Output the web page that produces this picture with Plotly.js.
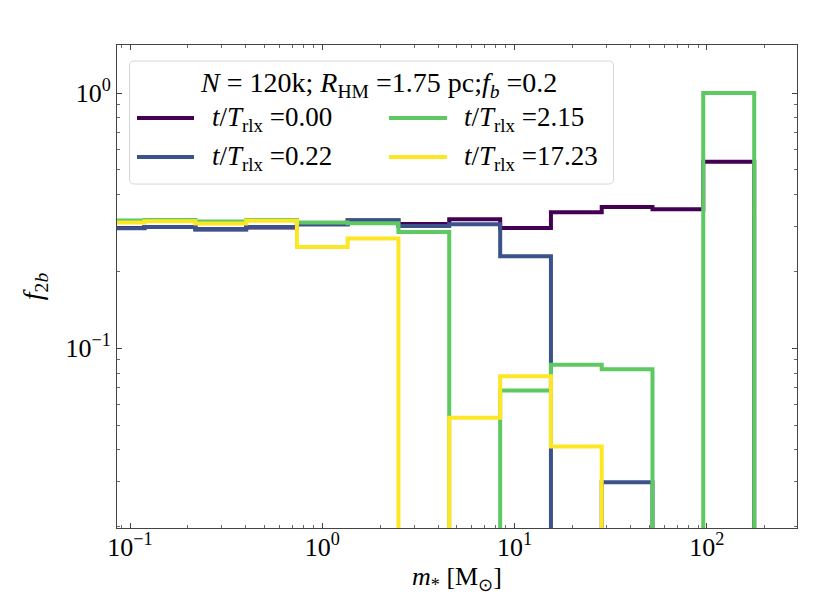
<!DOCTYPE html>
<html>
<head>
<meta charset="utf-8">
<script src="https://cdn.plot.ly/plotly-3.0.1.min.js"></script>
<style>html,body{margin:0;padding:0;background:#fff;}#chart{width:830px;height:600px;}</style>
</head>
<body>
<div id="chart"></div>
<script>
// bin edges of stellar mass [Msun] (log-spaced)
const binEdges = [0.0647, 0.1189, 0.2188, 0.4018, 0.738, 1.355, 2.489, 4.571, 8.414, 15.45, 28.38, 52.12, 95.7, 176.2];
// binary fraction per bin for each snapshot (0 = empty bin)
const fb_t000 = [0.296, 0.299, 0.293, 0.297, 0.306, 0.317, 0.307, 0.3205, 0.2963, 0.3415, 0.3581, 0.3508, 0.538];
const fb_t022 = [0.2955, 0.2987, 0.2920, 0.2989, 0.306, 0.3177, 0.3017, 0.3064, 0.2295, 0, 0.0299, 0, 0];
const fb_t215 = [0.3168, 0.3184, 0.3140, 0.3180, 0.311, 0.309, 0.2858, 0, 0.0683, 0.0863, 0.0827, 0, 1.0];
const fb_t1723 = [0.311, 0.3148, 0.3083, 0.3157, 0.2496, 0.2693, 0, 0.0535, 0.0778, 0.0412, 0, 0, 0];
const timeLabels = ["0.00", "0.22", "2.15", "17.23"];
const seriesColors = ["#440154", "#3b528b", "#5ec962", "#fde725"];
const xTickVals = [0.1, 1, 10, 100];
const xTickText = ["10<sup>\u22121</sup>", "10<sup>0</sup>", "10<sup>1</sup>", "10<sup>2</sup>"];
const yTickVals = [0.1, 1];
const yTickText = ["10<sup>\u22121</sup>", "10<sup>0</sup>"];
const minorDigits = [2, 3, 4, 5, 6, 7, 8, 9];
const decades = [0.01, 0.1, 1, 10, 100];

const allSeries = [fb_t000, fb_t022, fb_t215, fb_t1723];
const FLOOR = 1e-5; // stand-in for zero on a log axis (off the bottom of the plot)
const FONT = "Liberation Serif, Times New Roman, serif";

function stepOutline(edges, vals) {
  const xs = [edges[0]], ys = [FLOOR];
  for (let i = 0; i < vals.length; i++) {
    const v = vals[i] > 0 ? vals[i] : FLOOR;
    xs.push(edges[i]); ys.push(v);
    xs.push(edges[i + 1]); ys.push(v);
  }
  xs.push(edges[edges.length - 1]); ys.push(FLOOR);
  return {xs, ys};
}

const traces = allSeries.map((vals, k) => {
  const s = stepOutline(binEdges, vals);
  return {
    type: "scatter", mode: "lines", x: s.xs, y: s.ys,
    line: {color: seriesColors[k], width: 4, shape: "linear"},
    name: "t/T_rlx =" + timeLabels[k], showlegend: false, hoverinfo: "skip"
  };
});

const minorVals = [];
decades.forEach(d => minorDigits.forEach(m => minorVals.push(d * m)));

// plot-area geometry in pixels, for the hand-built legend box
const W = 830, H = 600, L = 117, R = 33, T = 45, B = 72;
const PW = W - L - R, PH = H - T - B;
const px = p => (p - L) / PW;
const py = p => 1 - (p - T) / PH;

const shapes = [];
const annotations = [];
// legend frame with rounded corners
(function () {
  const x0 = 129.5, x1 = 613.5, y0 = 61, y1 = 184, r = 5;
  const d = `M ${px(x0 + r)},${py(y0)} L ${px(x1 - r)},${py(y0)} Q ${px(x1)},${py(y0)} ${px(x1)},${py(y0 + r)} ` +
            `L ${px(x1)},${py(y1 - r)} Q ${px(x1)},${py(y1)} ${px(x1 - r)},${py(y1)} ` +
            `L ${px(x0 + r)},${py(y1)} Q ${px(x0)},${py(y1)} ${px(x0)},${py(y1 - r)} ` +
            `L ${px(x0)},${py(y0 + r)} Q ${px(x0)},${py(y0)} ${px(x0 + r)},${py(y0)} Z`;
  shapes.push({type: "path", xref: "paper", yref: "paper", path: d,
    fillcolor: "rgba(255,255,255,0.8)", line: {color: "#d6d6d6", width: 1}, layer: "above"});
})();
annotations.push({
  xref: "paper", yref: "paper", x: px(198), y: py(85), xanchor: "left", yanchor: "middle", align: "left",
  showarrow: false, font: {family: FONT, size: 28, color: "#000"},
  text: "<i>N</i> = 120k; <i>R</i><sub>HM</sub> =1.75 pc;<i>f<sub>b</sub></i> =0.2"
});
const legPos = [[137, 194, 210, 118], [137, 194, 210, 157], [389, 447, 462, 118], [389, 447, 462, 157]];
timeLabels.forEach((lab, k) => {
  const p = legPos[k];
  shapes.push({type: "line", xref: "paper", yref: "paper", x0: px(p[0]), x1: px(p[1]), y0: py(p[3]), y1: py(p[3]),
    line: {color: seriesColors[k], width: 4}, layer: "above"});
  annotations.push({
    xref: "paper", yref: "paper", x: px(p[2]), y: py(p[3] + 1), xanchor: "left", yanchor: "middle", align: "left",
    showarrow: false, font: {family: FONT, size: 27, color: "#000"},
    text: "<i>t</i>/<i>T</i><sub>rlx</sub> =" + lab
  });
});

const axisCommon = {
  type: "log", showline: true, linecolor: "#444", linewidth: 1, mirror: "allticks",
  ticks: "inside", ticklen: 5, tickwidth: 1, tickcolor: "#444",
  showgrid: false, zeroline: false,
  tickfont: {family: FONT, size: 26, color: "#000"},
  minor: {ticks: "inside", ticklen: 3, tickwidth: 0.8, tickcolor: "#444",
          tickmode: "array", tickvals: minorVals, showgrid: false}
};

const layout = {
  width: W, height: H,
  margin: {l: L, r: R, t: T, b: B, pad: 0},
  paper_bgcolor: "#fff", plot_bgcolor: "#fff",
  showlegend: false,
  xaxis: Object.assign({}, axisCommon, {
    range: [-1.0676, 2.4685], tickmode: "array", tickvals: xTickVals, ticktext: xTickText,
    ticklabelstandoff: -4,
    title: {text: "<i>m</i><sub>*</sub> [M<sub>\u2299</sub>]", font: {family: FONT, size: 26, color: "#000"}, standoff: 0}
  }),
  yaxis: Object.assign({}, axisCommon, {
    range: [-1.704, 0.1882], tickmode: "array", tickvals: yTickVals, ticktext: yTickText,
    title: {text: "<i>f</i><sub>2<i>b</i></sub>", font: {family: FONT, size: 28, color: "#000"}, standoff: 14}
  }),
  shapes: shapes,
  annotations: annotations
};

Plotly.newPlot("chart", traces, layout, {displayModeBar: false, staticPlot: true});
</script>
</body>
</html>
